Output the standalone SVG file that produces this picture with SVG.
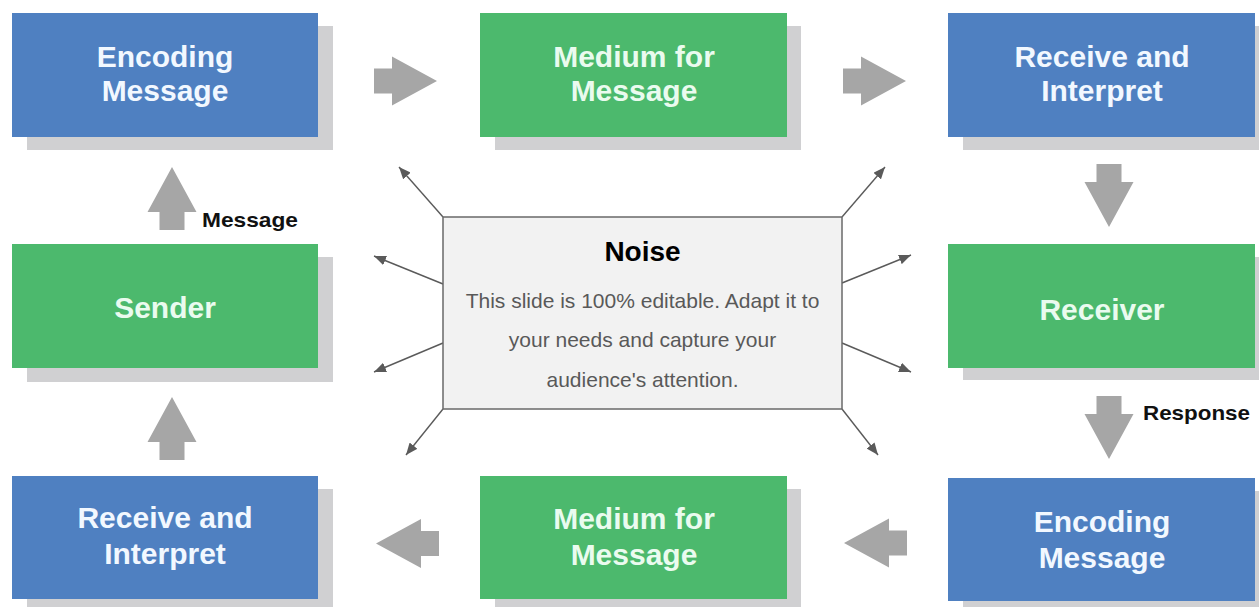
<svg xmlns="http://www.w3.org/2000/svg" width="1259" height="607" viewBox="0 0 1259 607">
<style>
.shadow{fill:#d0d0d2}
.blue{fill:#4f80c1}
.green{fill:#4cb96d}
.lbl{font-family:"Liberation Sans",Arial,sans-serif;font-weight:bold;font-size:30px;text-anchor:middle}
.lb{fill:#f2f8ff}
.lg{fill:#eafbef}
.blk{fill:#a6a6a6}
.noise-line{stroke:#5a5a5a;stroke-width:1.4;fill:none;marker-end:url(#tip)}
.side{font-family:"Liberation Sans",Arial,sans-serif;font-weight:bold;font-size:21px;fill:#111}
.body{font-family:"Liberation Sans",Arial,sans-serif;font-size:21px;fill:#595959;text-anchor:middle}
</style>
<defs>
<marker id="tip" viewBox="0 0 12 10" refX="12" refY="5" markerWidth="12" markerHeight="10" markerUnits="userSpaceOnUse" orient="auto">
<path d="M0,0 L12,5 L0,10 Z" fill="#5a5a5a"/>
</marker>
<path id="barrow" d="M-63,-12.5 L-45,-12.5 L-45,-24.5 L0,0 L-45,24.5 L-45,12.5 L-63,12.5 Z"/>
</defs>
<rect width="1259" height="607" fill="#ffffff"/>

<g id="connectors">
<use href="#barrow" class="blk" transform="translate(437,81)"/>
<use href="#barrow" class="blk" transform="translate(906,81)"/>
<use href="#barrow" class="blk" transform="translate(1109,227) rotate(90)"/>
<use href="#barrow" class="blk" transform="translate(1109,459) rotate(90)"/>
<use href="#barrow" class="blk" transform="translate(844,543) rotate(180)"/>
<use href="#barrow" class="blk" transform="translate(376,543.5) rotate(180)"/>
<use href="#barrow" class="blk" transform="translate(172,397) rotate(-90)"/>
<use href="#barrow" class="blk" transform="translate(172,167) rotate(-90)"/>
<line class="noise-line" x1="443" y1="217" x2="399" y2="167"/>
<line class="noise-line" x1="443" y1="284" x2="374" y2="256"/>
<line class="noise-line" x1="443" y1="343" x2="374" y2="372"/>
<line class="noise-line" x1="443" y1="409" x2="406" y2="455"/>
<line class="noise-line" x1="842" y1="217" x2="885" y2="167"/>
<line class="noise-line" x1="842" y1="283" x2="911" y2="255"/>
<line class="noise-line" x1="842" y1="343" x2="911" y2="372"/>
<line class="noise-line" x1="842" y1="409" x2="878" y2="455"/>
<text class="side" x="202" y="227" textLength="96" lengthAdjust="spacingAndGlyphs">Message</text>
<text class="side" x="1143" y="420" textLength="107" lengthAdjust="spacingAndGlyphs">Response</text>
</g>

<g id="encoding-top">
<rect class="shadow" x="27" y="26" width="306" height="124"/>
<rect class="blue" x="12" y="13" width="306" height="124"/>
<text class="lbl lb" x="165" y="67">Encoding</text>
<text class="lbl lb" x="165" y="101">Message</text>
</g>
<g id="medium-top">
<rect class="shadow" x="495" y="26" width="306" height="124"/>
<rect class="green" x="480" y="13" width="307" height="124"/>
<text class="lbl lg" x="634" y="67">Medium for</text>
<text class="lbl lg" x="634" y="101">Message</text>
</g>
<g id="receive-top">
<rect class="shadow" x="963" y="26" width="306" height="124"/>
<rect class="blue" x="948" y="13" width="307" height="124"/>
<text class="lbl lb" x="1102" y="67">Receive and</text>
<text class="lbl lb" x="1102" y="101">Interpret</text>
</g>
<g id="sender">
<rect class="shadow" x="27" y="257" width="306" height="125"/>
<rect class="green" x="12" y="244" width="306" height="124"/>
<text class="lbl lg" x="165" y="318">Sender</text>
</g>
<g id="receiver">
<rect class="shadow" x="963" y="257" width="306" height="123"/>
<rect class="green" x="948" y="244" width="307" height="124"/>
<text class="lbl lg" x="1102" y="320">Receiver</text>
</g>
<g id="receive-bottom">
<rect class="shadow" x="27" y="489" width="306" height="124"/>
<rect class="blue" x="12" y="476" width="306" height="123"/>
<text class="lbl lb" x="165" y="528">Receive and</text>
<text class="lbl lb" x="165" y="564">Interpret</text>
</g>
<g id="medium-bottom">
<rect class="shadow" x="495" y="489" width="306" height="124"/>
<rect class="green" x="480" y="476" width="307" height="123"/>
<text class="lbl lg" x="634" y="529">Medium for</text>
<text class="lbl lg" x="634" y="565">Message</text>
</g>
<g id="encoding-bottom">
<rect class="shadow" x="963" y="491" width="306" height="124"/>
<rect class="blue" x="948" y="478" width="307" height="123"/>
<text class="lbl lb" x="1102" y="532">Encoding</text>
<text class="lbl lb" x="1102" y="568">Message</text>
</g>
<g id="noise">
<rect x="443" y="217" width="399" height="192" fill="#f2f2f2" stroke="#6a6a6a" stroke-width="1.5"/>
<text x="642.5" y="261" font-family="'Liberation Sans',Arial,sans-serif" font-weight="bold" font-size="28" fill="#000" text-anchor="middle">Noise</text>
<text class="body" x="642.5" y="308">This slide is 100% editable. Adapt it to</text>
<text class="body" x="642.5" y="347">your needs and capture your</text>
<text class="body" x="642.5" y="387">audience's attention.</text>
</g>
</svg>
